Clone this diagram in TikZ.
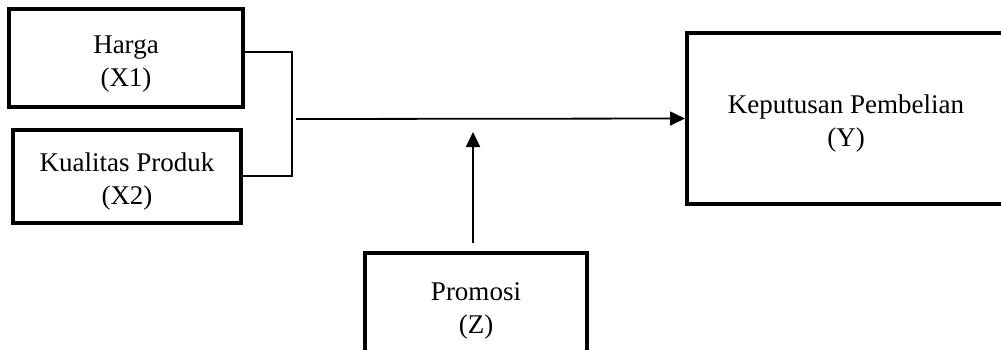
\documentclass[tikz,border=0pt]{standalone}
\usepackage{fontspec}
\setmainfont{Liberation Serif}
\usetikzlibrary{arrows.meta}

\begin{document}
\begin{tikzpicture}[x=0.5pt, y=-0.5pt,
		box/.style={draw, line width=2pt, align=center, inner sep=0pt,
			font=\fontsize{13.5}{16.5}\selectfont,
			execute at begin node={\rule{0pt}{31pt}}},
		link/.style={line width=0.9pt},
		arrow/.style={line width=0.9pt, -{Triangle[length=7.5pt,width=7pt]}}]
			\useasboundingbox (0,0) rectangle (1001,349);
			\clip (0,0) rectangle (1001,349);
			\node[box, minimum width=117pt, minimum height=49pt] (harga) at (126,58) {Harga\\(X1)};
			\node[box, minimum width=114pt, minimum height=46.5pt] (kualitas) at (127,176.5) {Kualitas Produk\\(X2)};
			\node[box, minimum width=159pt, minimum height=85.5pt] (keputusan) at (846,118.5) {Keputusan Pembelian\\(Y)};
			\node[box, minimum width=111pt, minimum height=52pt] (promosi) at (476,305) {Promosi\\(Z)};
			\coordinate (bt) at (292,52);
			\coordinate (bb) at (292,176);
			\coordinate (st) at (296,119);
			\coordinate (tip) at (473,132);
			\draw[link] (harga.east |- bt)--(bt)--(bb)--(kualitas.east |- bb);
			\draw[arrow] (st)--(keputusan.west);
			\draw[arrow, shorten <=4pt] (promosi.north -| tip)--(tip);
		\end{tikzpicture}
\end{document}
